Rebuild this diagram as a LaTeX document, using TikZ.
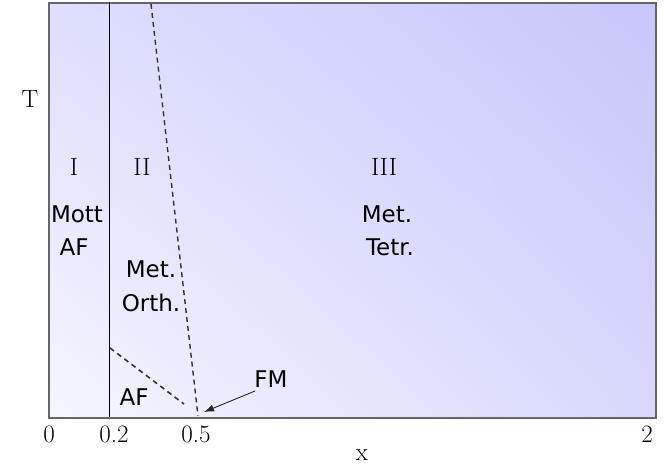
\documentclass[tikz,border=0pt]{standalone}
\usepackage{fontspec}
\newfontfamily\labfont{DejaVu Sans}
\usetikzlibrary{arrows.meta,shadings}
\definecolor{cLL}{RGB}{245,245,255}
\definecolor{cUR}{RGB}{198,198,252}
\definecolor{cUL}{RGB}{222,222,253}
\definecolor{cLR}{RGB}{216,216,252}
\begin{document}
\begin{tikzpicture}[x=1pt,y=-1pt,
  serif/.style={font=\fontsize{25}{30}\selectfont, inner sep=0pt, anchor=base},
  sanslab/.style={font=\labfont\fontsize{23}{28}\selectfont, inner sep=0pt, anchor=base},
  dashline/.style={draw=black!80, line width=1.4pt, dash pattern=on 5pt off 4pt}]
\useasboundingbox (0,0) rectangle (664,474);
\shade[lower left=cLL, upper right=cUR, upper left=cUL, lower right=cLR]
  (48,417) rectangle (655,2);
\node[draw=black!60, line width=1.6pt, minimum width=607pt, minimum height=415pt, anchor=north west, inner sep=0pt] (box) at (48,2) {};
% boundary lines
\coordinate (s1) at (109,2);
\coordinate (s2) at (109,417);
\draw[black, line width=1pt] (s1) -- (s2);
\coordinate (d1) at (151,4);
\coordinate (d2) at (198,416);
\draw[dashline] (d1) -- (d2);
\coordinate (a1) at (110,348);
\coordinate (a2) at (184,404);
\draw[dashline, line width=1.6pt] (a1) -- (a2);
% axis labels
\node[serif] (T) at (30,107) {T};
\node[serif] (x0) at (49,442) {0};
\node[serif] (x02) at (114,442) {0.2};
\node[serif] (x05) at (196,442) {0.5};
\node[serif] (x2) at (647,442) {2};
\node[serif] (xl) at (362,460) {x};
% region numerals
\node[serif] (r1) at (74,175) {I};
\node[serif] (r2) at (142,175) {II};
\node[serif] (r3) at (384,175) {III};
% phase labels
\node[sanslab] (mott) at (77,222) {Mott};
\node[sanslab] (mottaf) at (74,255) {AF};
\node[sanslab] (tetr1) at (387,222) {Met.};
\node[sanslab] (tetr2) at (390,255) {Tetr.};
\node[sanslab] (orth1) at (151,277) {Met.};
\node[sanslab] (orth2) at (151,311) {Orth.};
\node[sanslab] (af) at (134,405) {AF};
\node[sanslab] (fm) at (271,387) {FM};
\coordinate (fmtail) at (255,391);
\coordinate (fmtip) at (204,412);
\draw[black!85, line width=0.9pt, -{Latex[length=10pt,width=7pt]}] (fmtail) -- (fmtip);
\end{tikzpicture}
\end{document}
